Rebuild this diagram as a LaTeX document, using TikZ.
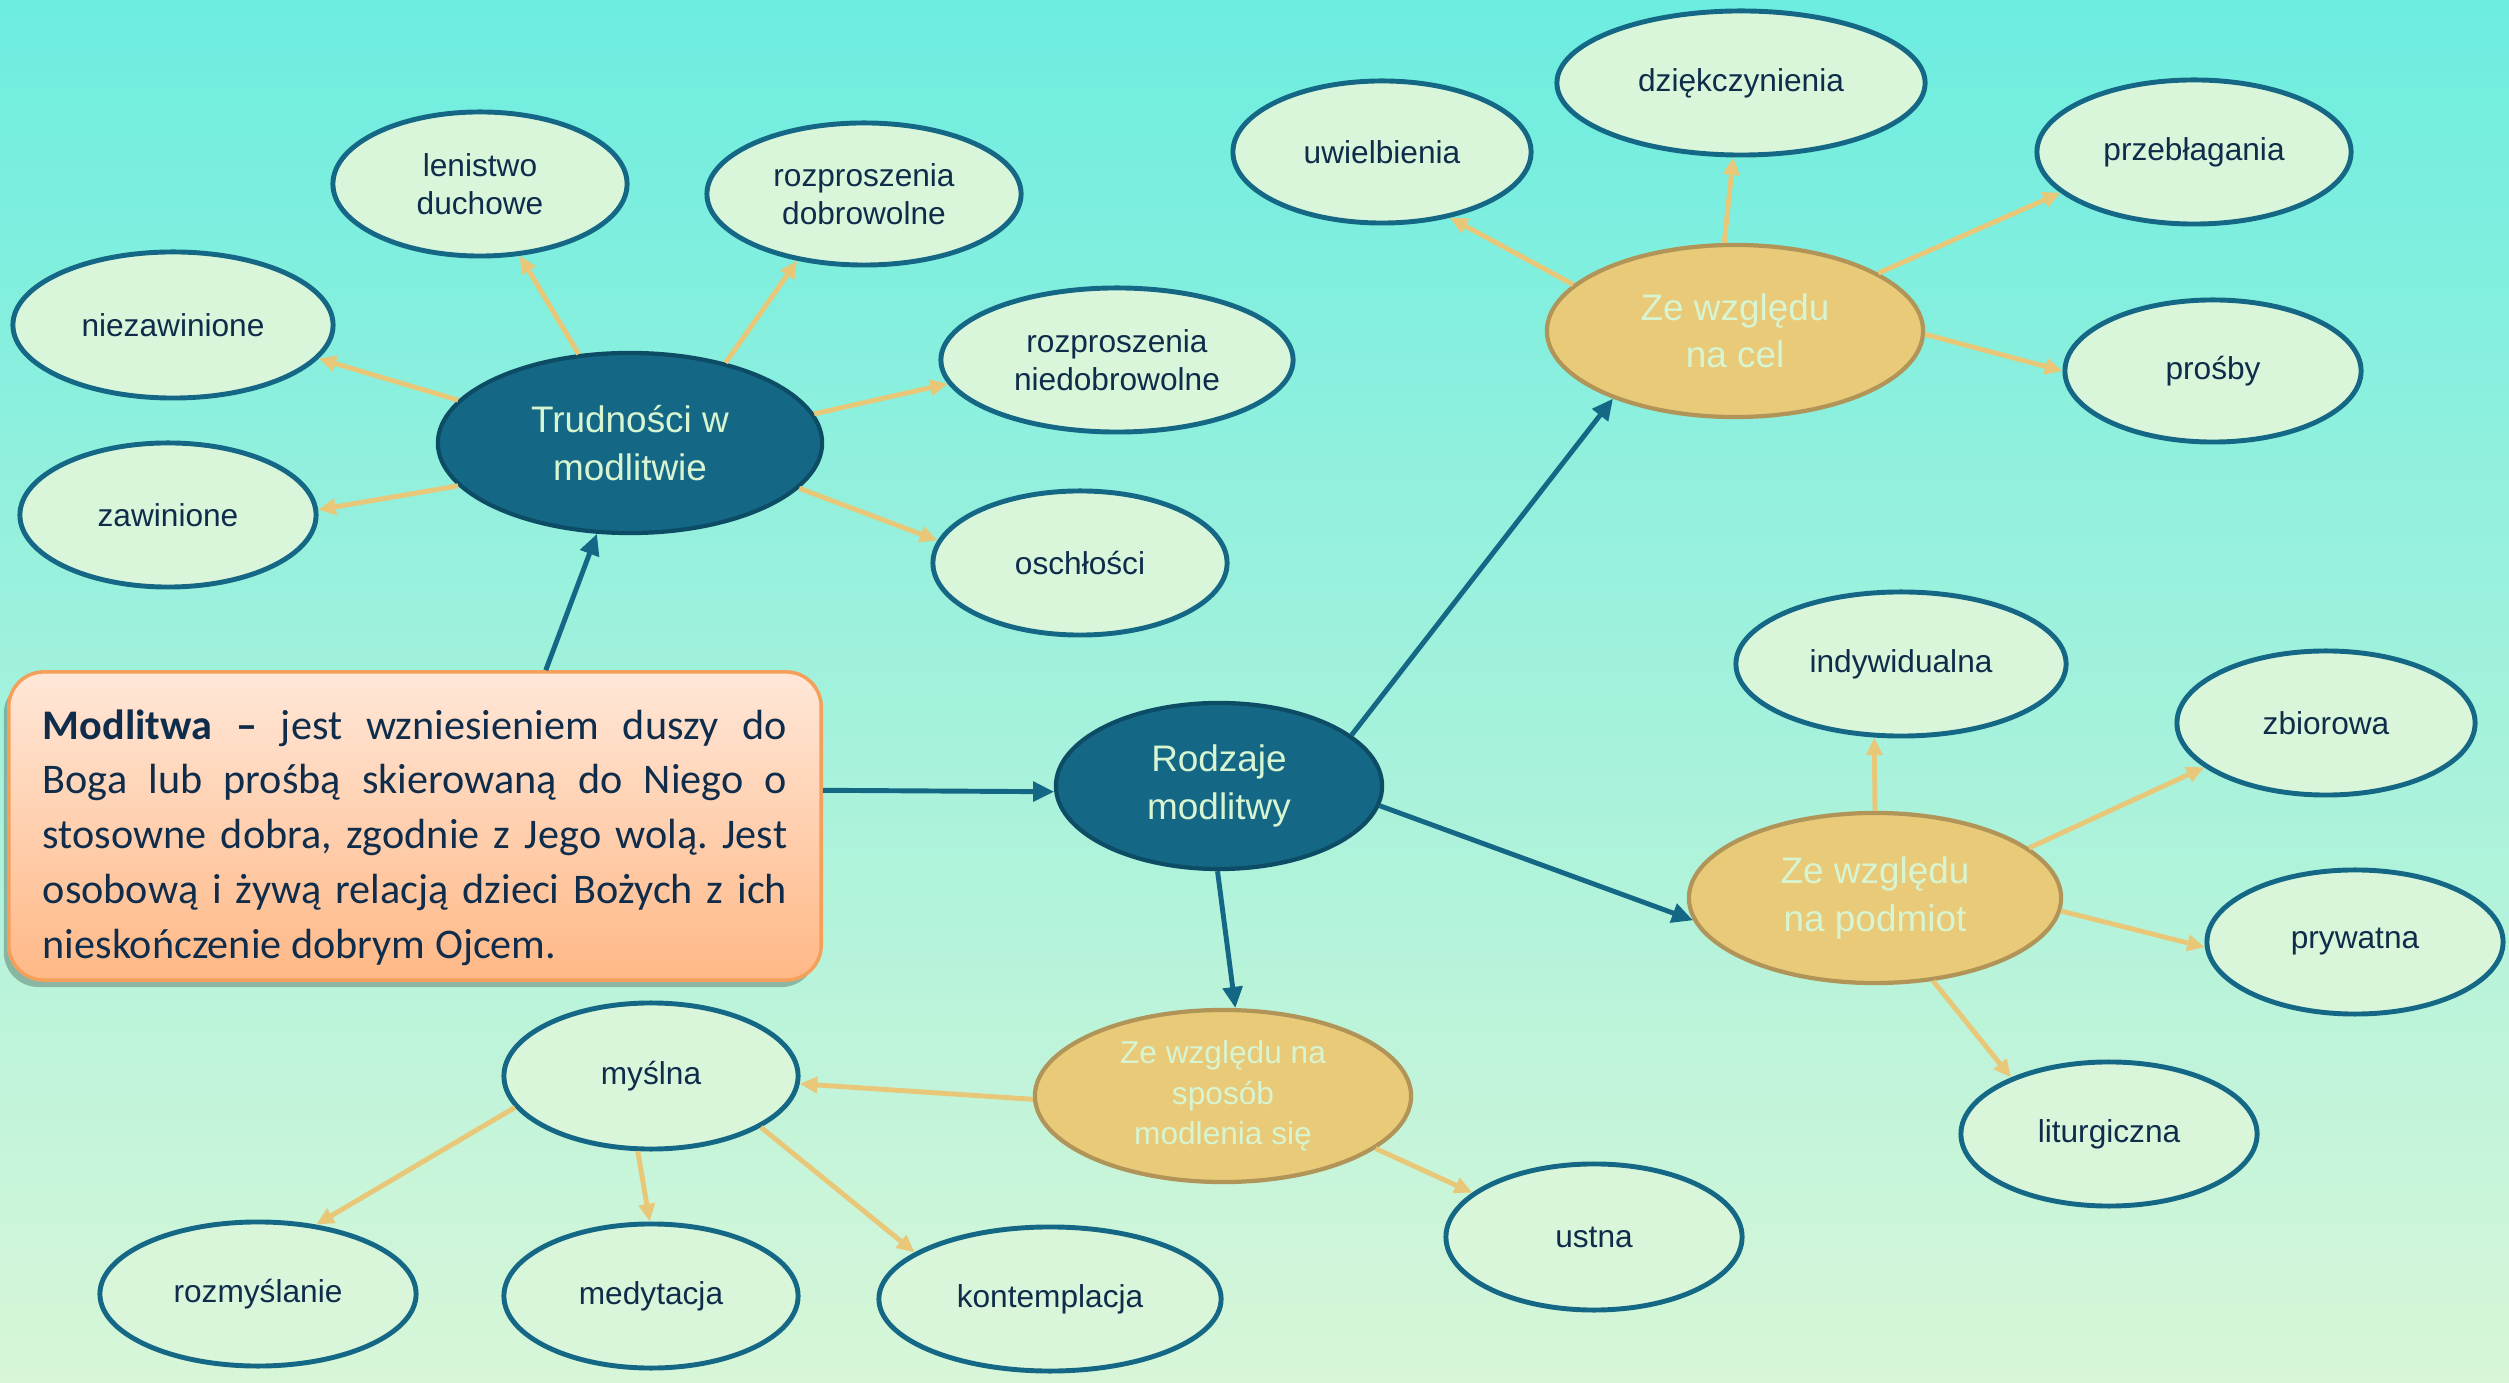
\documentclass[tikz,border=0pt]{standalone}
\usepackage{fontspec}
\setmainfont{Liberation Sans}
\newfontfamily\opisfont{Carlito}
\usepackage{tikz}
\usepackage{xcolor}
\usetikzlibrary{shapes.geometric,arrows.meta,shadows}

\definecolor{bgtop}{RGB}{108,237,224}
\definecolor{bgbottom}{RGB}{216,246,216}
\definecolor{hubfill}{RGB}{21,104,133}
\definecolor{hubline}{RGB}{12,76,101}
\definecolor{hubtext}{RGB}{216,245,210}
\definecolor{subfill}{RGB}{232,202,120}
\definecolor{subline}{RGB}{176,148,88}
\definecolor{leaffill}{RGB}{218,246,218}
\definecolor{leafline}{RGB}{21,104,133}
\definecolor{leaftext}{RGB}{15,45,75}
\definecolor{goldline}{RGB}{232,200,120}
\definecolor{boxtop}{RGB}{255,231,216}
\definecolor{boxbottom}{RGB}{255,184,134}
\definecolor{boxline}{RGB}{245,160,90}

\tikzset{
  leaf/.style={ellipse, draw=leafline, fill=leaffill, line width=1.4pt, text=leaftext,
    font=\fontsize{9}{10.8}\selectfont, align=center, inner sep=0pt,
    minimum width=2.96cm, minimum height=1.44cm},
  hub/.style={ellipse, draw=hubline, fill=hubfill, line width=1.2pt, text=hubtext,
    font=\fontsize{10.5}{13.5}\selectfont, align=center, inner sep=0pt},
  sub/.style={ellipse, draw=subline, fill=subfill, line width=1.2pt, text=hubtext,
    font=\fontsize{10.5}{13.5}\selectfont, align=center, inner sep=0pt,
    minimum width=3.76cm, minimum height=1.72cm},
  bluearrow/.style={draw=hubfill, line width=1.4pt, -{Triangle[length=6pt,width=5.5pt]}},
  goldarrow/.style={draw=goldline, line width=1.4pt, -{Triangle[length=5pt,width=4.5pt]}}
}

\begin{document}
\begin{tikzpicture}[x=0.01cm, y=-0.01cm]
\useasboundingbox (0,0) rectangle (2509,1383);
\shade[top color=bgtop, bottom color=bgbottom] (0,0) rectangle (2509,1383);

% definicja modlitwy
\node[draw=boxline, line width=1pt, top color=boxtop, bottom color=boxbottom,
  rounded corners=0.35cm, text width=7.44cm, inner xsep=0.34cm, inner ysep=0.05cm,
  minimum height=3.08cm, align=justify, text=leaftext,
  font=\opisfont\fontsize{12}{15.6}\selectfont\frenchspacing,
  drop shadow={shadow xshift=-0.05cm, shadow yshift=-0.07cm, opacity=0.25, fill=black}]
  (opis) at (415,826)
  {\rule{0pt}{15pt}{\bfseries Modlitwa –} jest wzniesieniem duszy do\linebreak
   Boga lub prośbą skierowaną do Niego o\linebreak
   stosowne dobra, zgodnie z Jego wolą. Jest\linebreak
   osobową i żywą relacją dzieci Bożych z ich\linebreak
   nieskończenie dobrym Ojcem.};

% srodkowe wezly
\node[hub, minimum width=3.84cm, minimum height=1.8cm] (trud) at (630,443) {Trudności w\\modlitwie};
\node[hub, minimum width=3.26cm, minimum height=1.66cm] (rodzaje) at (1219,786) {Rodzaje\\modlitwy};
\node[sub] (cel) at (1735,331) {Ze względu\\na cel};
\node[sub, minimum width=3.72cm, minimum height=1.7cm] (podmiot) at (1875,898) {Ze względu\\na podmiot};
\node[sub, font=\fontsize{9}{11.6}\selectfont] (sposob) at (1223,1096) {Ze względu na\\sposób\\modlenia się};

% trudnosci
\node[leaf, minimum width=2.94cm] (lenistwo) at (480,184) {lenistwo\\duchowe};
\node[leaf, minimum width=3.14cm, minimum height=1.42cm] (dobrowolne) at (864,194) {rozproszenia\\dobrowolne};
\node[leaf, minimum width=3.2cm, minimum height=1.46cm] (niezawinione) at (173,325) {niezawinione};
\node[leaf, minimum width=3.52cm] (niedobrowolne) at (1117,360) {rozproszenia\\niedobrowolne};
\node[leaf] (zawinione) at (168,515) {zawinione};
\node[leaf, minimum width=2.94cm] (oschlosci) at (1080,563) {oschłości};

% cel
\node[leaf, minimum width=2.98cm, minimum height=1.42cm] (uwielbienia) at (1382,152) {uwielbienia};
\node[leaf, minimum width=3.68cm] (dziekczynienia) at (1741,83) {dziękczynienia};
\node[leaf, minimum width=3.14cm] (przeblagania) at (2194,152) {przebłagania};
\node[leaf, minimum height=1.42cm] (prosby) at (2213,371) {prośby};

% podmiot
\node[leaf, minimum width=3.3cm] (indywidualna) at (1901,664) {indywidualna};
\node[leaf, minimum width=2.98cm] (zbiorowa) at (2326,723) {zbiorowa};
\node[leaf] (prywatna) at (2355,942) {prywatna};
\node[leaf] (liturgiczna) at (2109,1134) {liturgiczna};

% sposob
\node[leaf, minimum width=2.94cm, minimum height=1.46cm] (myslna) at (651,1076) {myślna};
\node[leaf, minimum height=1.46cm] (ustna) at (1594,1237) {ustna};
\node[leaf, minimum width=3.16cm] (rozmyslanie) at (258,1294) {rozmyślanie};
\node[leaf, minimum width=2.94cm] (medytacja) at (651,1296) {medytacja};
\node[leaf, minimum width=3.42cm] (kontemplacja) at (1050,1299) {kontemplacja};

% glowne strzalki
\draw[bluearrow] (opis.50) -- (trud.250);
\draw[bluearrow] (opis.5) -- (rodzaje.182);
\draw[bluearrow] (rodzaje.21) -- (cel.209);
\draw[bluearrow] (rodzaje.353) -- (podmiot.187);
\draw[bluearrow] (rodzaje.269) -- (sposob.82);

% galezie
\draw[goldarrow] (trud.120) -- (lenistwo.299);
\draw[goldarrow] (trud.40) -- (dobrowolne.225);
\draw[goldarrow] (trud.166) -- (niezawinione.347);
\draw[goldarrow] (trud.194) -- (zawinione.2);
\draw[goldarrow] (trud.9) -- (niedobrowolne.188);
\draw[goldarrow] (trud.345) -- (oschlosci.171);
\draw[goldarrow] (cel.164) -- (uwielbienia.316);
\draw[goldarrow] (cel.97) -- (dziekczynienia.264);
\draw[goldarrow] (cel.22) -- (przeblagania.197);
\draw[goldarrow] (cel.359) -- (prosby.180);
\draw[goldarrow] (podmiot.90) -- (indywidualna.250);
\draw[goldarrow] (podmiot.18) -- (zbiorowa.200);
\draw[goldarrow] (podmiot.356) -- (prywatna.182);
\draw[goldarrow] (podmiot.305) -- (liturgiczna.150);
\draw[goldarrow] (sposob.181) -- (myslna.357);
\draw[goldarrow] (sposob.341) -- (ustna.160);
\draw[goldarrow] (myslna.193) -- (rozmyslanie.50);
\draw[goldarrow] (myslna.260) -- (medytacja.91);
\draw[goldarrow] (myslna.335) -- (kontemplacja.161);
\end{tikzpicture}
\end{document}
